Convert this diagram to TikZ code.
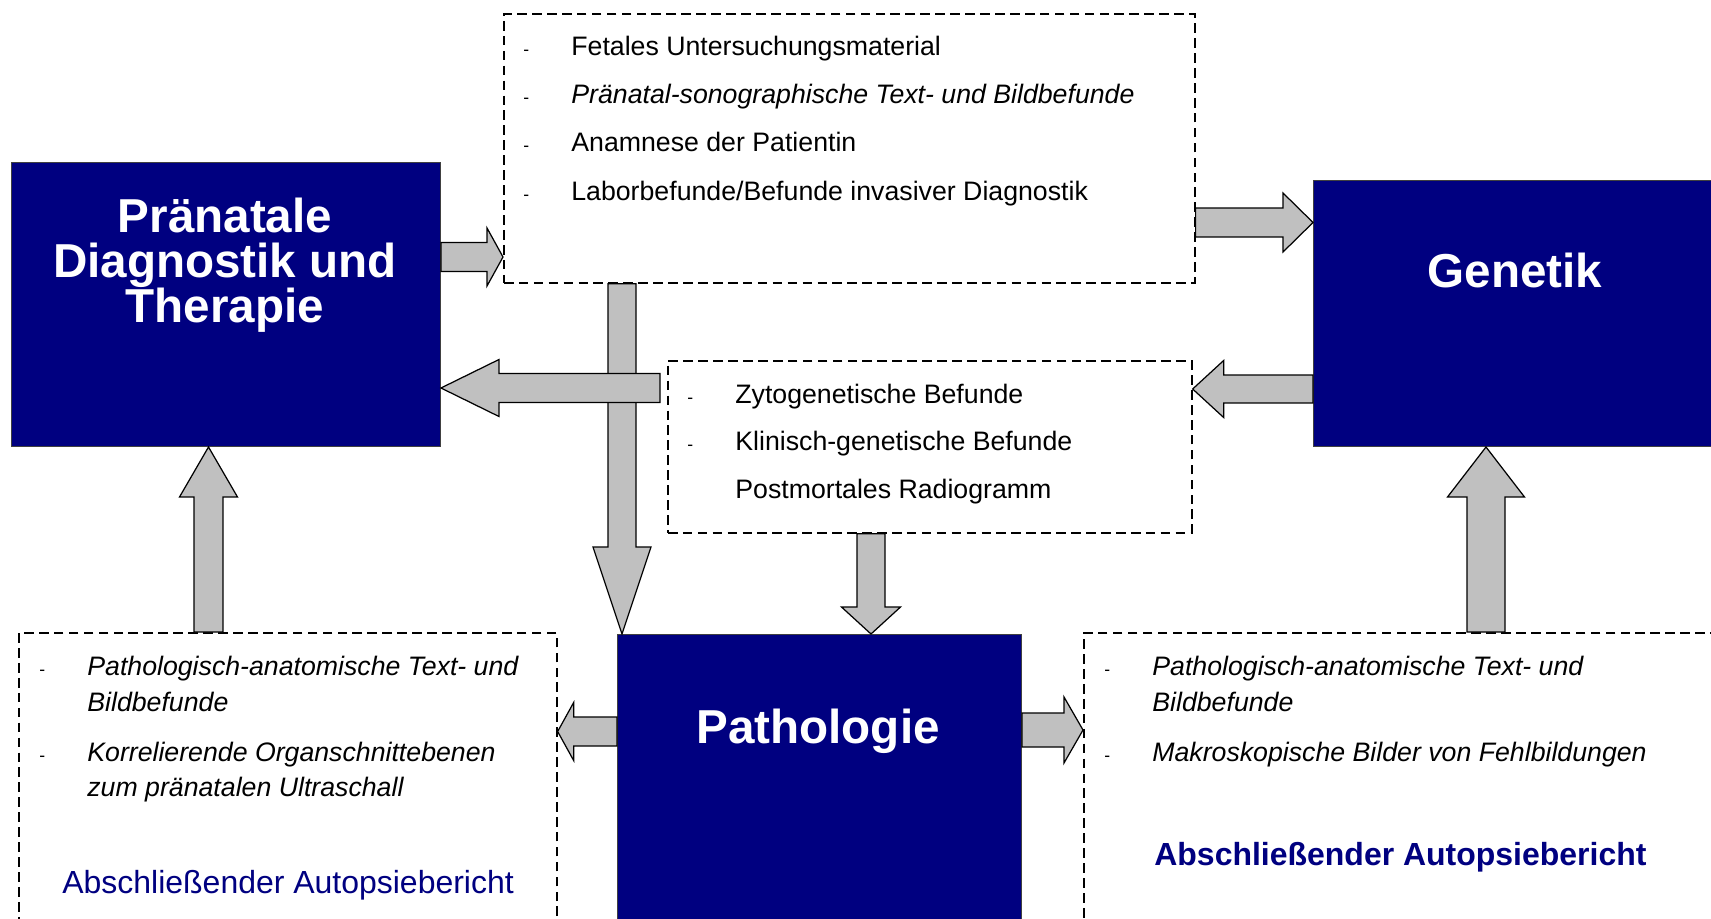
\documentclass[tikz,border=0pt]{standalone}
\usepackage{fontspec}
\setmainfont{Liberation Sans}
\usepackage{xcolor}
\definecolor{navy}{RGB}{0,0,128}
\definecolor{arrowgray}{RGB}{192,192,192}
\usepackage{tikz}
\usetikzlibrary{calc,positioning}
\tikzset{
  main_box/.style={rectangle,draw=black!75,line width=0.6pt,fill=navy,anchor=north west,inner sep=0pt},
  main_title/.style={anchor=base,inner sep=0pt,text=white,font=\fontsize{27.1}{27.1}\selectfont\bfseries},
  info_box/.style={rectangle,draw=black,line width=1pt,dash pattern=on 5.5pt off 3pt,anchor=north west,inner sep=0pt},
  info_item/.style={anchor=base west,inner sep=0pt,font=\fontsize{15.2}{18}\selectfont},
  report/.style={anchor=base west,inner sep=0pt,text=navy,font=\fontsize{18.2}{22}\selectfont},
  fat_arr/.style={draw=black,fill=arrowgray,line width=0.7pt},
}
% list entry with a small dash in front
\newcommand{\itm}[1]{\makebox[0.96cm][l]{\fontsize{10}{10}\selectfont -}#1}
% block arrow: from, to, shaft half width, head half width, head length
\newcommand{\fatarrow}[5]{%
  \path ($(#2)!#5!(#1)$) coordinate (fa_head);
  \draw[fat_arr] ($(#1)!#3!90:(#2)$) -- ($(fa_head)!#3!-90:(#1)$)
    -- ($(fa_head)!#4!-90:(#1)$) -- (#2) -- ($(fa_head)!#4!90:(#1)$)
    -- ($(fa_head)!#3!90:(#1)$) -- ($(#1)!#3!-90:(#2)$) -- cycle;
}

\begin{document}
\begin{tikzpicture}[x=0.02cm,y=-0.02cm]
  \useasboundingbox (0,0) rectangle (1711,919);
  % dashed boxes with the findings
  \node (praebef)[info_box,minimum width=13.82cm,minimum height=5.38cm] at (503,13) {};
  \node (genbef)[info_box,minimum width=10.48cm,minimum height=3.44cm] at (667,360) {};
  \node (pathbef_l)[info_box,minimum width=10.76cm,minimum height=5.96cm] at (18,632) {};
  \node (pathbef_r)[info_box,minimum width=12.94cm,minimum height=5.96cm] at (1083,632) {};
  % the three disciplines
  \node (praenatal)[main_box,minimum width=8.58cm,minimum height=5.68cm] at (11,162) {};
  \node (genetik)[main_box,minimum width=8.14cm,minimum height=5.32cm] at (1313,180) {};
  \node (patho)[main_box,minimum width=8.08cm,minimum height=5.92cm] at (617,634) {};
  \coordinate (split) at (660,388);
  % arrows
  \fatarrow{praenatal.east |- 0,257}{praebef.west |- 0,257}{0.29cm}{0.58cm}{0.32cm}
  \fatarrow{praebef.east |- 0,222.5}{genetik.west |- 0,222.5}{0.29cm}{0.59cm}{0.6cm}
  \fatarrow{genetik.west |- 0,389}{genbef.east |- 0,389}{0.28cm}{0.57cm}{0.62cm}
  \fatarrow{praebef.south -| 622,0}{patho.north -| 622,0}{0.28cm}{0.58cm}{1.74cm}
  \fatarrow{split}{praenatal.east |- split}{0.29cm}{0.57cm}{1.16cm}
  \fatarrow{genbef.south -| 871,0}{patho.north -| 871,0}{0.28cm}{0.59cm}{0.54cm}
  \fatarrow{pathbef_l.north -| 208.5,0}{praenatal.south -| 208.5,0}{0.29cm}{0.58cm}{1.0cm}
  \fatarrow{patho.west |- 0,731.5}{pathbef_l.east |- 0,731.5}{0.29cm}{0.58cm}{0.32cm}
  \fatarrow{patho.east |- 0,730}{pathbef_r.west |- 0,730}{0.34cm}{0.66cm}{0.38cm}
  \fatarrow{pathbef_r.north -| 1486,0}{genetik.south -| 1486,0}{0.38cm}{0.77cm}{1.0cm}
  % titles
  \node (t_pd1)[main_title] at (225,232) {Pränatale};
  \node (t_pd2)[main_title] at (225,277) {Diagnostik und};
  \node (t_pd3)[main_title] at (225,322) {Therapie};
  \node (t_gen)[main_title] at (1515,287) {Genetik};
  \node (t_path)[main_title] at (818,743) {Pathologie};
  % top list
  \node (pb1)[info_item] at (523,56) {\itm{Fetales Untersuchungsmaterial}};
  \node (pb2)[info_item] at (523,104) {\itm{\itshape Pränatal-sonographische Text- und Bildbefunde}};
  \node (pb3)[info_item] at (523,152) {\itm{Anamnese der Patientin}};
  \node (pb4)[info_item] at (523,200) {\itm{Laborbefunde/Befunde invasiver Diagnostik}};
  % middle list
  \node (gb1)[info_item] at (687,403) {\itm{Zytogenetische Befunde}};
  \node (gb2)[info_item] at (687,450) {\itm{Klinisch-genetische Befunde}};
  \node (gb3)[info_item] at (735,498) {Postmortales Radiogramm};
  % bottom left list
  \node (pl1)[info_item] at (39,675) {\itm{\itshape Pathologisch-anatomische Text- und}};
  \node (pl2)[info_item,font=\fontsize{15.2}{18}\selectfont\itshape] at (87,711) {Bildbefunde};
  \node (pl3)[info_item] at (39,761) {\itm{\itshape Korrelierende Organschnittebenen}};
  \node (pl4)[info_item,font=\fontsize{15.2}{18}\selectfont\itshape] at (87,796) {zum pränatalen Ultraschall};
  \node (rep_l)[report] at (62,893) {Abschließender Autopsiebericht};
  % bottom right list
  \node (pr1)[info_item] at (1104,675) {\itm{\itshape Pathologisch-anatomische Text- und}};
  \node (pr2)[info_item,font=\fontsize{15.2}{18}\selectfont\itshape] at (1152,711) {Bildbefunde};
  \node (pr3)[info_item] at (1104,761) {\itm{\itshape Makroskopische Bilder von Fehlbildungen}};
  \node (rep_r)[report,font=\fontsize{18.2}{22}\selectfont\bfseries] at (1154,865) {Abschließender Autopsiebericht};
\end{tikzpicture}
\end{document}
